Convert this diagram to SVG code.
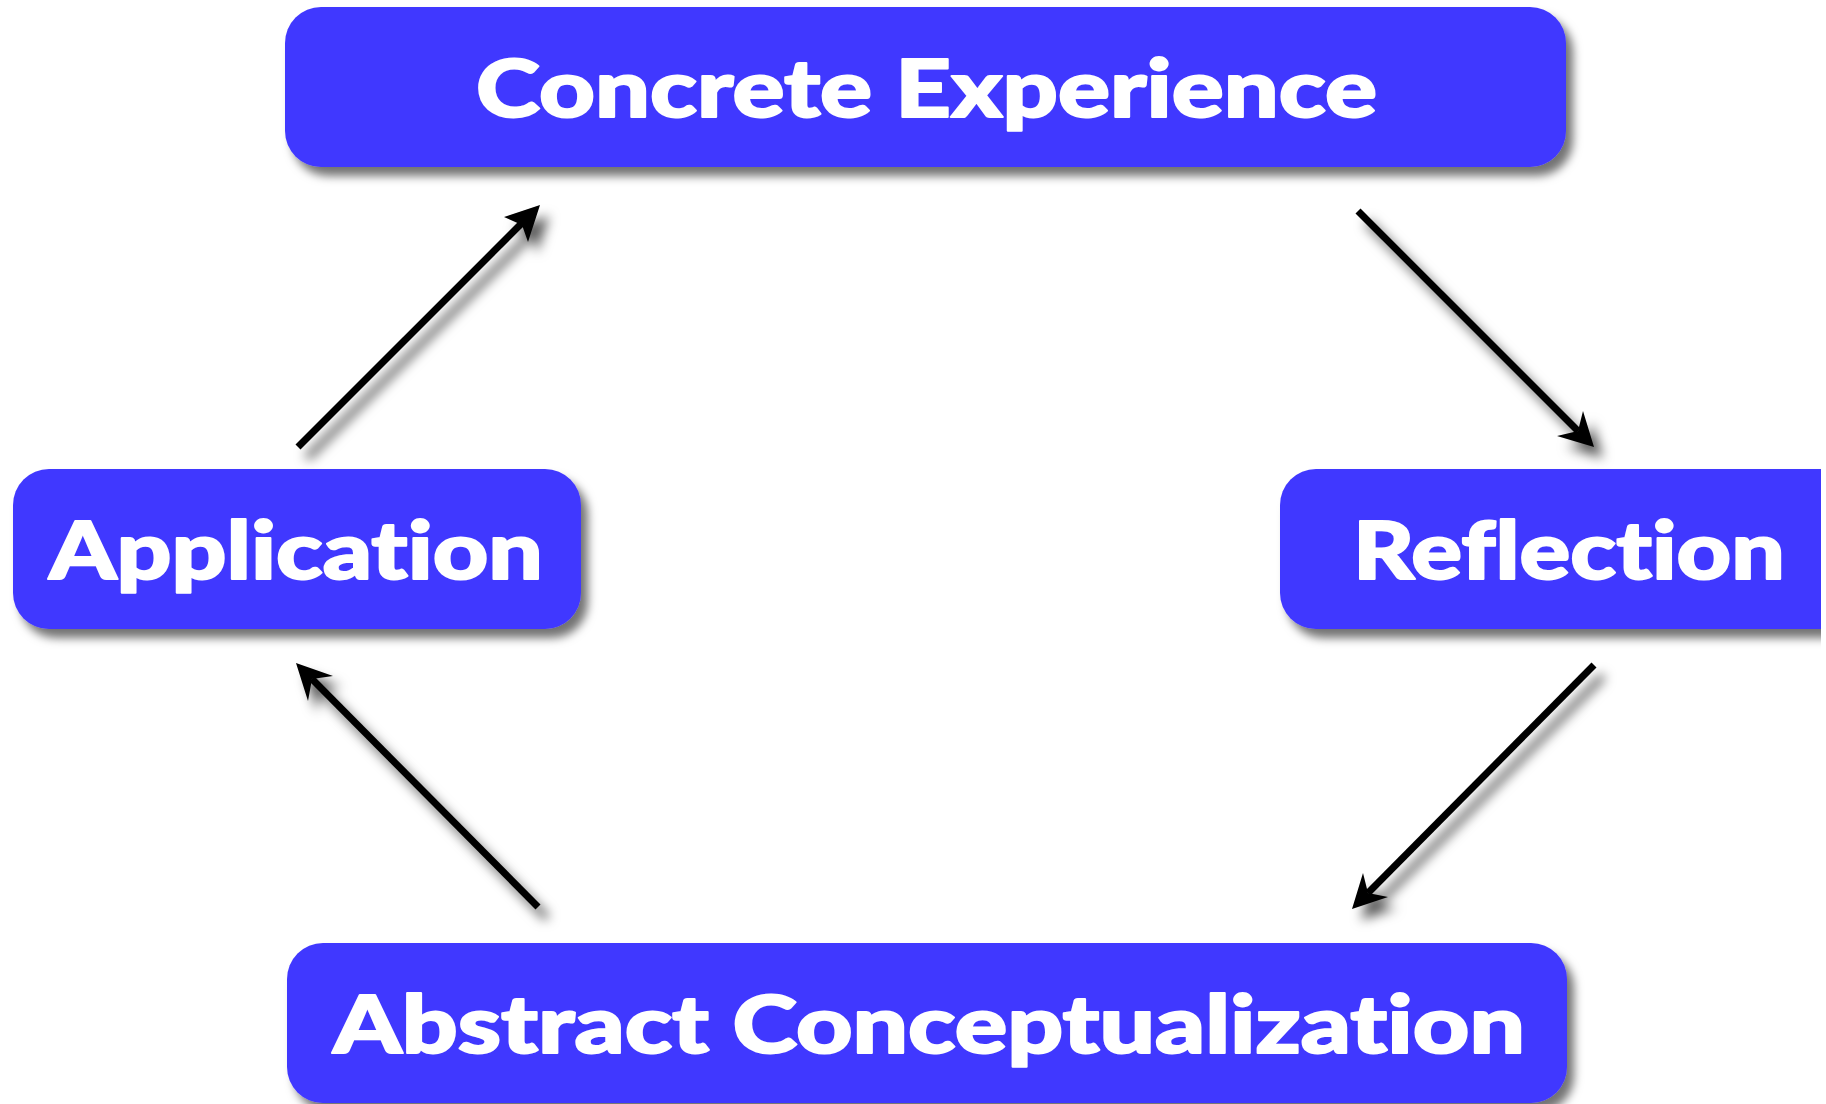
<svg xmlns="http://www.w3.org/2000/svg" width="1826" height="1104" viewBox="0 0 1826 1104">
  <defs>
    <filter id="boxShadow" x="-10%" y="-20%" width="125%" height="150%">
      <feDropShadow dx="7" dy="9" stdDeviation="5" flood-color="#000" flood-opacity="0.55"/>
    </filter>
    <filter id="arrowShadow" x="-20%" y="-20%" width="150%" height="150%">
      <feDropShadow dx="9" dy="11" stdDeviation="6" flood-color="#000" flood-opacity="0.65"/>
    </filter>
    <clipPath id="clipRight">
      <rect x="0" y="0" width="1821" height="1104"/>
    </clipPath>
  </defs>
  <style>
    .box { fill: #4137FF; filter: url(#boxShadow); }
    .label { fill: #FFFFFF; stroke: #FFFFFF; stroke-width: 2; stroke-linejoin: round; font-family: "Lato", "Open Sans", "DejaVu Sans", sans-serif; font-weight: 900; font-size: 80px; font-variant-ligatures: none; font-feature-settings: "liga" 0, "clig" 0, "dlig" 0; }
    .line { stroke: #000; stroke-width: 7; fill: none; }
    .head { fill: #000; }
  </style>
  <rect width="1826" height="1104" fill="#FFFFFF"/>

  <g id="connectors" filter="url(#arrowShadow)">
    <g id="app-to-concrete">
      <line class="line" x1="298" y1="447" x2="524" y2="221"/>
      <polygon class="head" points="540,205 504,217 522,225 528,242"/>
    </g>
    <g id="concrete-to-reflection">
      <line class="line" x1="1358" y1="211" x2="1578" y2="431"/>
      <polygon class="head" points="1594,447 1583,411 1578,431 1557,436"/>
    </g>
    <g id="reflection-to-abstract">
      <line class="line" x1="1594" y1="665" x2="1368" y2="893"/>
      <polygon class="head" points="1352,909 1363,873 1368,893 1388,897"/>
    </g>
    <g id="abstract-to-application">
      <line class="line" x1="538" y1="907" x2="312" y2="679"/>
      <polygon class="head" points="296,663 333,676 312,679 308,701"/>
    </g>
  </g>

  <g id="node-concrete-experience">
    <rect class="box" x="285" y="7" width="1281" height="160" rx="36" ry="36"/>
    <text class="label" x="476" y="117" textLength="901" lengthAdjust="spacingAndGlyphs">Concrete Experience</text>
  </g>

  <g id="node-application">
    <rect class="box" x="13" y="469" width="568" height="160" rx="36" ry="36"/>
    <text class="label" x="49" y="579" textLength="494" lengthAdjust="spacingAndGlyphs">Application</text>
  </g>

  <g id="node-reflection" clip-path="url(#clipRight)">
    <rect class="box" x="1280" y="469" width="580" height="160" rx="36" ry="36"/>
    <text class="label" x="1353" y="579" textLength="432" lengthAdjust="spacingAndGlyphs">Reflection</text>
  </g>

  <g id="node-abstract-conceptualization">
    <rect class="box" x="287" y="943" width="1280" height="160" rx="36" ry="36"/>
    <text class="label" x="333" y="1053" textLength="1192" lengthAdjust="spacingAndGlyphs">Abstract Conceptualization</text>
  </g>
</svg>
